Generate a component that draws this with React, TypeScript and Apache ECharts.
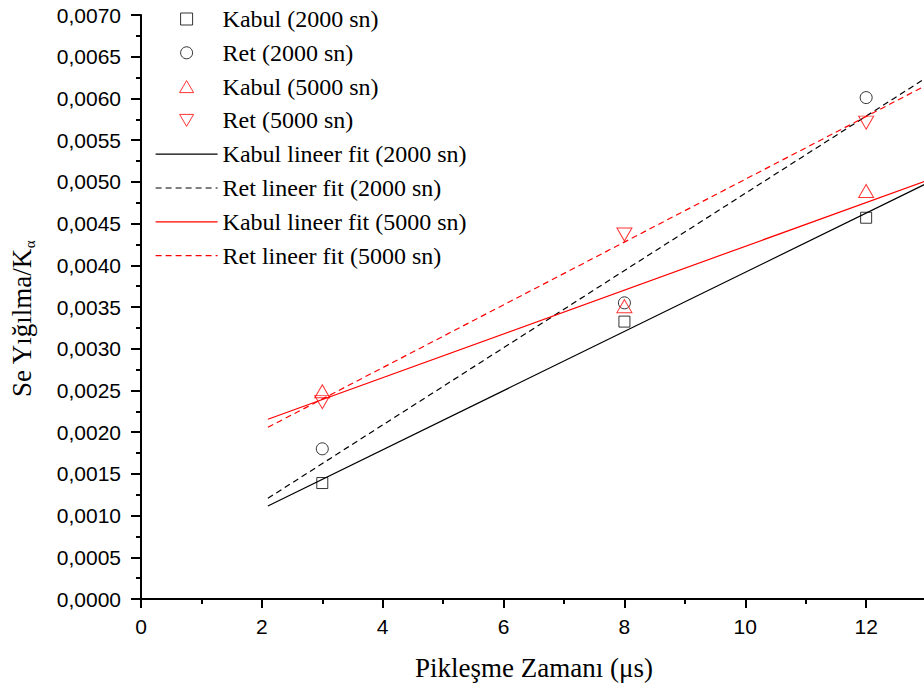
import React, { useEffect, useRef } from "react";
import * as echarts from "echarts";

// Measurement times (µs)
const xValues = [3, 8, 12];

// Scatter series values
const kabul2000 = [0.00139, 0.003325, 0.00457];
const ret2000 = [0.0018, 0.00355, 0.00601];
const kabul5000 = [0.00249, 0.00351, 0.00489];
const ret5000 = [0.00236, 0.00437, 0.00571];

// Linear-fit lines: endpoints [x, y]
const fitX = [2.1, 13];
const kabulFit2000 = [0.001115, 0.00498];
const retFit2000 = [0.001207, 0.00625];
const kabulFit5000 = [0.002154, 0.005015];
const retFit5000 = [0.002058, 0.00616];

// Labels
const seriesNames = [
  "Kabul (2000 sn)",
  "Ret (2000 sn)",
  "Kabul (5000 sn)",
  "Ret (5000 sn)",
  "Kabul lineer fit (2000 sn)",
  "Ret lineer fit (2000 sn)",
  "Kabul lineer fit (5000 sn)",
  "Ret lineer fit (5000 sn)",
];
const xTitle = "Pikleşme Zamanı (μs)";
const yTitleMain = "Se Yığılma/K";
const yTitleSub = "α";

const BLACK = "#000000";
const RED = "#ff0000";
const SERIF = "'Liberation Serif', 'Times New Roman', serif";
const SANS = "'Liberation Sans', Arial, sans-serif";

const pts = (ys: number[]) => xValues.map((x, i) => [x, ys[i]]);
const fit = (ys: number[]) => fitX.map((x, i) => [x, ys[i]]);

export default function App() {
  const ref = useRef<HTMLDivElement>(null);

  useEffect(() => {
    if (!ref.current) return;
    const chart = echarts.init(ref.current, undefined, { renderer: "svg" });

    const hollow = (c: string) => ({
      color: "rgba(0,0,0,0)",
      borderColor: c,
      borderWidth: 1,
    });

    const scatter = (
      name: string,
      ys: number[],
      c: string,
      symbol: string,
      size: number | number[],
      rotate = 0
    ) => ({
      name,
      type: "scatter",
      data: pts(ys),
      symbol,
      symbolSize: size,
      symbolRotate: rotate,
      itemStyle: hollow(c),
      z: 5,
    });

    const fitLine = (name: string, ys: number[], c: string, dashed: boolean) => ({
      name,
      type: "line",
      data: fit(ys),
      symbol: "none",
      showSymbol: false,
      lineStyle: { color: c, width: 1.2, type: dashed ? [6, 4] : "solid" },
      itemStyle: { color: c },
      z: 3,
    });

    const lineLegend = (name: string, c: string, dashed: boolean) => ({
      name,
      itemStyle: {
        color: "rgba(0,0,0,0)",
        borderColor: "rgba(0,0,0,0)",
        borderWidth: 0,
        opacity: 0,
      },
      lineStyle: { color: c, width: 1.2, type: dashed ? [6, 4] : "solid", opacity: 1 },
    });

    const option: any = {
      animation: false,
      backgroundColor: "#ffffff",
      grid: {
        left: 141,
        top: 15,
        width: 846,
        height: 584,
        outerBoundsMode: "none",
        containLabel: false,
      },
      legend: {
        orient: "vertical",
        left: 150,
        top: 2,
        itemWidth: 62,
        itemHeight: 12,
        itemGap: 9.8,
        selectedMode: false,
        textStyle: {
          fontFamily: SERIF,
          fontSize: 24,
          color: BLACK,
          lineHeight: 24,
        },
        data: [
          { name: seriesNames[0], icon: "path://M0,0L11,0L11,11L0,11Z", itemStyle: hollow(BLACK) },
          { name: seriesNames[1], icon: "circle", itemStyle: hollow(BLACK) },
          { name: seriesNames[2], icon: "path://M7,0L14,12L0,12Z", itemStyle: hollow(RED) },
          { name: seriesNames[3], icon: "path://M0,0L14,0L7,12Z", itemStyle: hollow(RED) },
          lineLegend(seriesNames[4], BLACK, false),
          lineLegend(seriesNames[5], BLACK, true),
          lineLegend(seriesNames[6], RED, false),
          lineLegend(seriesNames[7], RED, true),
        ],
      },
      xAxis: {
        type: "value",
        min: 0,
        max: 14,
        interval: 2,
        name: xTitle,
        nameLocation: "middle",
        nameGap: 55,
        nameTextStyle: {
          fontFamily: SERIF,
          fontSize: 27,
          color: BLACK,
          padding: [0, 60, 0, 0],
        },
        axisLine: { show: true, onZero: false, lineStyle: { color: BLACK, width: 2 } },
        axisTick: { show: true, inside: false, length: 9, lineStyle: { color: BLACK, width: 2 } },
        minorTick: { show: true, splitNumber: 2, length: 5, lineStyle: { color: BLACK, width: 2 } },
        splitLine: { show: false },
        axisLabel: {
          fontFamily: SANS,
          fontSize: 21,
          color: BLACK,
          margin: 17,
          formatter: (v: number) => (v <= 12 ? String(v) : ""),
        },
      },
      yAxis: {
        type: "value",
        min: 0,
        max: 0.007,
        interval: 0.0005,
        name: `${yTitleMain}{sub|${yTitleSub}}`,
        nameLocation: "middle",
        nameGap: 104,
        nameTextStyle: {
          fontFamily: SERIF,
          fontSize: 27,
          color: BLACK,
          lineHeight: 30,
          padding: [0, 24, 0, 0],
          rich: {
            sub: {
              fontFamily: SERIF,
              fontSize: 15,
              color: BLACK,
              verticalAlign: "bottom",
              lineHeight: 14,
            },
          },
        },
        axisLine: { show: true, onZero: false, lineStyle: { color: BLACK, width: 2 } },
        axisTick: { show: true, inside: false, length: 10, lineStyle: { color: BLACK, width: 2 } },
        minorTick: { show: true, splitNumber: 2, length: 5, lineStyle: { color: BLACK, width: 2 } },
        splitLine: { show: false },
        axisLabel: {
          fontFamily: SANS,
          fontSize: 21,
          color: BLACK,
          margin: 20,
          formatter: (v: number) => v.toFixed(4).replace(".", ","),
        },
      },
      series: [
        scatter(seriesNames[0], kabul2000, BLACK, "rect", 11),
        scatter(seriesNames[1], ret2000, BLACK, "circle", 12),
        scatter(seriesNames[2], kabul5000, RED, "triangle", [15, 13]),
        scatter(seriesNames[3], ret5000, RED, "triangle", [15, 13], 180),
        fitLine(seriesNames[4], kabulFit2000, BLACK, false),
        fitLine(seriesNames[5], retFit2000, BLACK, true),
        fitLine(seriesNames[6], kabulFit5000, RED, false),
        fitLine(seriesNames[7], retFit5000, RED, true),
      ],
    };

    chart.setOption(option);
    return () => chart.dispose();
  }, []);

  return (
    <div
      style={{
        position: "fixed",
        left: 0,
        top: 0,
        width: 924,
        height: 691,
        overflow: "hidden",
        background: "#fff",
      }}
    >
      <div ref={ref} style={{ width: 924, height: 691 }} />
    </div>
  );
}
